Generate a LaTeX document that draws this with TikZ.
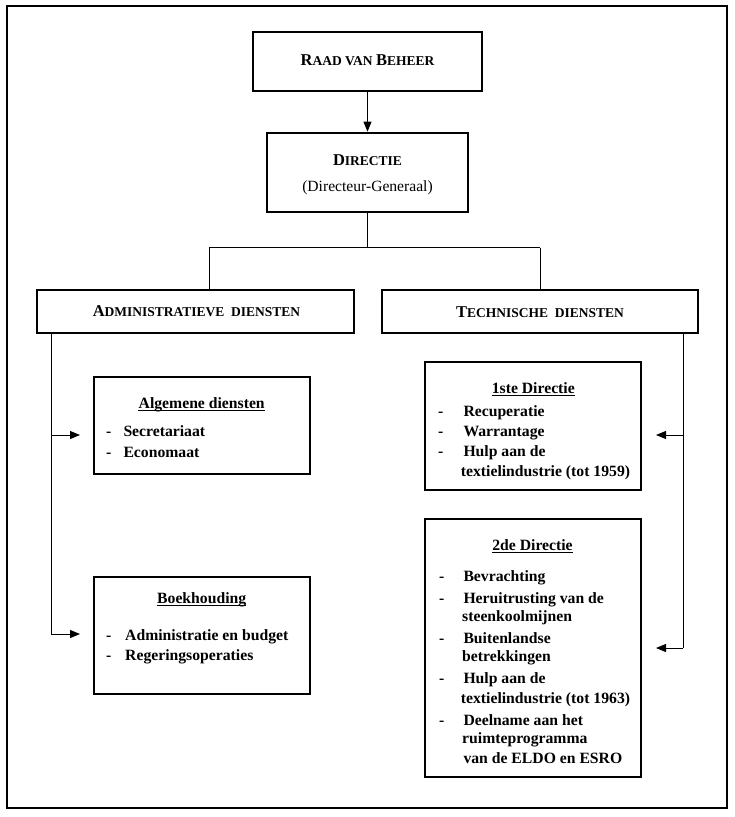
\documentclass[tikz,border=0pt]{standalone}
\usepackage{fontspec}
\setmainfont{Liberation Serif}
\usetikzlibrary{arrows.meta}
\newcommand\bigc[1]{{\fontsize{16.5}{16.5}\selectfont #1}}
\newcommand\smc[1]{{\fontsize{13.5}{13.5}\selectfont #1}}
\begin{document}
\begin{tikzpicture}[x=1pt,y=-1pt,
  box/.style={draw, line width=2.7pt, inner sep=0},
  conn/.style={line width=1pt},
  arr/.style={conn, -{Triangle[length=10pt,width=8pt]}},
  txt/.style={inner sep=0, font=\bfseries\fontsize{15.7}{15.7}\selectfont},
  title/.style={txt, anchor=base},
  item/.style={txt, anchor=base west},
  uline/.style={line width=1pt},
]
\useasboundingbox (0,0) rectangle (735,817);
\draw[line width=2.2pt] (7,6) rectangle (727,808);

% boxes
\node[box, minimum width=229pt, minimum height=59pt] (raad) at (367.5,61.5) {};
\node[box, minimum width=201pt, minimum height=79pt] (dir) at (367.5,172.5) {};
\node[box, minimum width=317pt, minimum height=43pt] (adm) at (195.5,311.5) {};
\node[box, minimum width=316pt, minimum height=43pt] (tech) at (540,311.5) {};
\node[box, minimum width=216pt, minimum height=97pt] (alg) at (202,425.5) {};
\node[box, minimum width=216pt, minimum height=117pt] (boek) at (202,635.5) {};
\node[box, minimum width=216pt, minimum height=128pt] (d1) at (533,426) {};
\node[box, minimum width=216pt, minimum height=258pt] (d2) at (533,648) {};

% headings
\node[title] (raadT) at (367.5,65.7) {\bigc{R}\smc{AAD VAN }\bigc{B}\smc{EHEER}};
\node[title] (dirT) at (367.5,165) {\bigc{D}\smc{IRECTIE}};
\node[inner sep=0, anchor=base, font=\fontsize{15.6}{15.6}\selectfont] (dirS) at (367.5,191.5) {(Directeur-Generaal)};
\node[title] (admT) at (196.5,316.7) {\bigc{A}\smc{DMINISTRATIEVE\ \ DIENSTEN}};
\node[title] (techT) at (540,317) {\bigc{T}\smc{ECHNISCHE\ \ DIENSTEN}};

% Algemene diensten
\node[title] (algT) at (201.7,408.3) {Algemene diensten};
\draw[uline] ([yshift=-2.5pt]algT.base west) -- ([yshift=-2.5pt]algT.base east);
\node[item] (algD1) at (106,436.7) {-};
\node[item] (algI1) at (123.3,436.7) {Secretariaat};
\node[item] (algD2) at (106,457) {-};
\node[item] (algI2) at (123.3,457) {Economaat};

% Boekhouding
\node[title] (boekT) at (201.7,603.3) {Boekhouding};
\draw[uline] ([yshift=-2.5pt]boekT.base west) -- ([yshift=-2.5pt]boekT.base east);
\node[item] (boekD1) at (106,640) {-};
\node[item] (boekI1) at (125,640) {Administratie en budget};
\node[item] (boekD2) at (106,660) {-};
\node[item] (boekI2) at (125,660) {Regeringsoperaties};

% 1ste Directie
\node[title] (d1T) at (533.3,393.3) {1ste Directie};
\draw[uline] ([yshift=-2.5pt]d1T.base west) -- ([yshift=-2.5pt]d1T.base east);
\node[item] (d1D1) at (438,416.5) {-};
\node[item] (d1I1) at (463.3,416.5) {Recuperatie};
\node[item] (d1D2) at (438,436.5) {-};
\node[item] (d1I2) at (463.3,436.5) {Warrantage};
\node[item] (d1D3) at (438,456) {-};
\node[item] (d1I3) at (463.3,456) {Hulp aan de};
\node[item] (d1I3b) at (460.7,476.5) {textielindustrie (tot 1959)};

% 2de Directie
\node[title] (d2T) at (532.5,550) {2de Directie};
\draw[uline] ([yshift=-2.5pt]d2T.base west) -- ([yshift=-2.5pt]d2T.base east);
\node[item] (d2D1) at (439,581.7) {-};
\node[item] (d2I1) at (463.3,581.7) {Bevrachting};
\node[item] (d2D2) at (439,603.3) {-};
\node[item] (d2I2) at (463.3,603.3) {Heruitrusting van de};
\node[item] (d2I2b) at (462,621.7) {steenkoolmijnen};
\node[item] (d2D3) at (439,643.3) {-};
\node[item] (d2I3) at (463.3,643.3) {Buitenlandse};
\node[item] (d2I3b) at (462,661.7) {betrekkingen};
\node[item] (d2D4) at (439,683.3) {-};
\node[item] (d2I4) at (463.3,683.3) {Hulp aan de};
\node[item] (d2I4b) at (460.7,703.3) {textielindustrie (tot 1963)};
\node[item] (d2D5) at (439,725) {-};
\node[item] (d2I5) at (463.3,725) {Deelname aan het};
\node[item] (d2I5b) at (462,743.3) {ruimteprogramma};
\node[item] (d2I5c) at (463.3,763.3) {van de ELDO en ESRO};

% connectors
\coordinate (bus) at (367.5,247.5);
\coordinate (busL) at (209,247.5);
\coordinate (busR) at (540,247.5);
\draw[arr] (raad) -- (dir);
\draw[conn] (dir.south) -- (bus);
\draw[conn] (busL) -- (busR);
\draw[conn] (busL) -- (busL |- adm.north);
\draw[conn] (busR) -- (tech.north);

\coordinate (lA) at (51,435);
\coordinate (lB) at (51,634);
\coordinate (lAt) at (80,435);
\coordinate (lBt) at (80,634);
\draw[conn] (adm.south -| lA) -- (lB);
\draw[arr] (lA) -- (lAt);
\draw[arr] (lB) -- (lBt);

\coordinate (rA) at (683,435);
\coordinate (rB) at (683,648);
\coordinate (rAt) at (656,435);
\coordinate (rBt) at (656,648);
\draw[conn] (tech.south -| rA) -- (rB);
\draw[arr] (rA) -- (rAt);
\draw[arr] (rB) -- (rBt);
\end{tikzpicture}
\end{document}
